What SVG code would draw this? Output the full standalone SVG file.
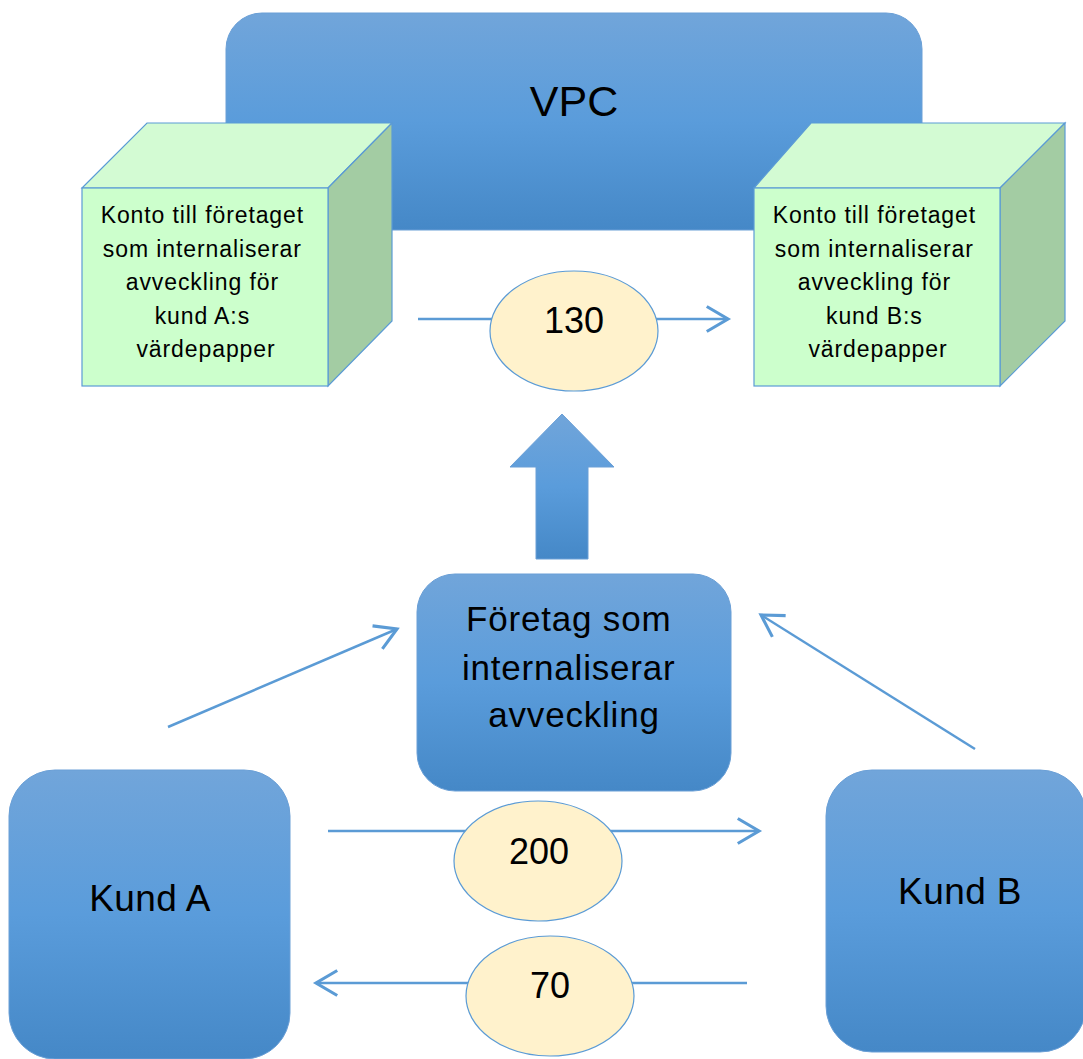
<svg xmlns="http://www.w3.org/2000/svg" width="1083" height="1059" viewBox="0 0 1083 1059">
<defs>
<linearGradient id="blueGrad" x1="0" y1="0" x2="0" y2="1">
<stop offset="0" stop-color="#71a5da"/>
<stop offset="0.5" stop-color="#5a9cdb"/>
<stop offset="1" stop-color="#4588c7"/>
</linearGradient>
<marker id="openArrow" markerUnits="userSpaceOnUse" markerWidth="30" markerHeight="30" viewBox="-20 -12 24 24" refX="0" refY="0" orient="auto">
<path d="M-17,-10 L0,0 L-17,10" fill="none" stroke="#5b9bd5" stroke-width="2.5"/>
</marker>
<style>
.box{fill:url(#blueGrad);stroke:#6a9fd6;stroke-width:1}
.front{fill:#ccffcc;stroke:#5b9bd5;stroke-width:1.2}
.top{fill:#d3fbd3;stroke:#5b9bd5;stroke-width:1.2}
.side{fill:#a3cca3;stroke:#5b9bd5;stroke-width:1.2}
.oval{fill:#fff2cc;stroke:#5b9bd5;stroke-width:1.2}
.conn{stroke:#5b9bd5;stroke-width:2.5;fill:none}
.t{font-family:"Liberation Sans",Arial,sans-serif;fill:#000;text-anchor:middle}
.cube{font-size:23px;letter-spacing:0.9px}
.mid{font-size:35px;letter-spacing:0.8px}
.kund{font-size:37px;letter-spacing:0.4px}
.num{font-size:36px}
</style>
</defs>
<rect width="1083" height="1059" fill="#ffffff"/>

<g id="vpc">
<rect class="box" x="226" y="13" width="696" height="217" rx="36" ry="36"/>
<text class="t" x="574" y="116" font-size="43">VPC</text>
</g>

<g id="cube-a">
<polygon class="top" points="82,188 147,123 392,123 328,188"/>
<polygon class="side" points="328,188 392,123 392,321 328,386"/>
<rect class="front" x="82" y="188" width="246" height="198"/>
<text class="t cube">
<tspan x="206" y="223">Konto till företaget</tspan>
<tspan x="206" y="257">som internaliserar</tspan>
<tspan x="206" y="290">avveckling för</tspan>
<tspan x="206" y="324">kund A:s</tspan>
<tspan x="206" y="357">värdepapper</tspan>
</text>
</g>

<g id="cube-b">
<polygon class="top" points="754,188 811,123 1065,123 1000,188"/>
<polygon class="side" points="1000,188 1065,123 1065,321 1000,386"/>
<rect class="front" x="754" y="188" width="246" height="198"/>
<text class="t cube">
<tspan x="878" y="223">Konto till företaget</tspan>
<tspan x="878" y="257">som internaliserar</tspan>
<tspan x="878" y="290">avveckling för</tspan>
<tspan x="878" y="324">kund B:s</tspan>
<tspan x="878" y="357">värdepapper</tspan>
</text>
</g>

<g id="connectors">
<line class="conn" x1="418" y1="319" x2="728" y2="319" marker-end="url(#openArrow)"/>
<line class="conn" x1="168" y1="727" x2="397" y2="629" marker-end="url(#openArrow)"/>
<line class="conn" x1="975" y1="749" x2="761" y2="615" marker-end="url(#openArrow)"/>
<line class="conn" x1="328" y1="831" x2="759" y2="831" marker-end="url(#openArrow)"/>
<line class="conn" x1="747" y1="983" x2="316" y2="983" marker-end="url(#openArrow)"/>
<polygon class="box" points="536,559 536,467 510,467 562,414 614,467 588,467 588,559"/>
</g>

<g id="foretag">
<rect class="box" x="417" y="574" width="314" height="217" rx="38" ry="38"/>
<text class="t mid">
<tspan x="574" y="631">Företag som</tspan>
<tspan x="574" y="680">internaliserar</tspan>
<tspan x="574" y="727">avveckling</tspan>
</text>
</g>

<g id="kund-a">
<rect class="box" x="9" y="770" width="281" height="289" rx="46" ry="46"/>
<text class="t kund" x="150" y="911">Kund A</text>
</g>

<g id="kund-b">
<rect class="box" x="826" y="770" width="260" height="282" rx="46" ry="46"/>
<text class="t kund" x="960" y="904">Kund B</text>
</g>

<g id="label-130">
<ellipse class="oval" cx="574" cy="331" rx="84" ry="60"/>
<text class="t num" x="574" y="333">130</text>
</g>

<g id="label-200">
<ellipse class="oval" cx="538" cy="861" rx="84" ry="60"/>
<text class="t num" x="539" y="864">200</text>
</g>

<g id="label-70">
<ellipse class="oval" cx="550" cy="996" rx="84" ry="60"/>
<text class="t num" x="550" y="998">70</text>
</g>
</svg>
